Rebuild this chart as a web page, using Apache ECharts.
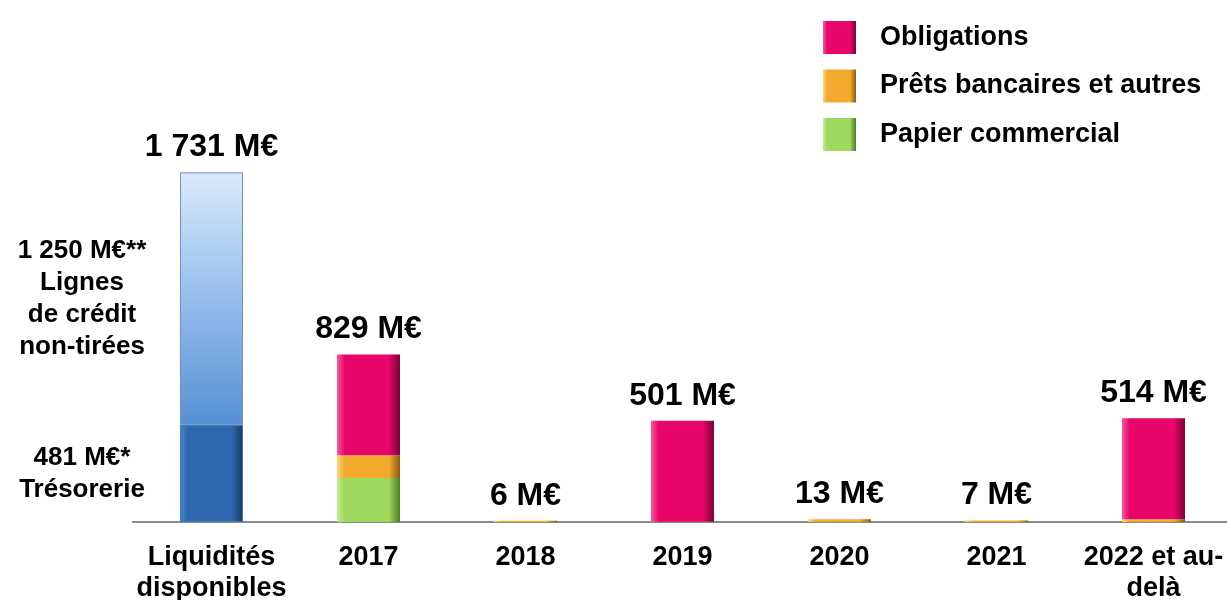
<!DOCTYPE html>
<html>
<head>
<meta charset="utf-8">
<script src="https://cdn.jsdelivr.net/npm/echarts@6/dist/echarts.min.js"></script>
<style>
  html, body { margin: 0; padding: 0; background: #fff; }
  #chart { width: 1227px; height: 600px; }
</style>
</head>
<body>
<div id="chart"></div>
<script>
const categories = ['Liquidités\ndisponibles', '2017', '2018', '2019', '2020', '2021', '2022 et au-\ndelà'];
const tresorerie = [481, null, null, null, null, null, null];
const lignesCredit = [1250, null, null, null, null, null, null];
const papierCommercial = [null, 218, 0, 0, 0, 0, 0];
const pretsBancaires = [null, 113, 6, 1, 13, 7, 14];
const obligations = [null, 498, 0, 500, 0, 0, 500];
const totals = ['1 731 M€', '829 M€', '6 M€', '501 M€', '13 M€', '7 M€', '514 M€'];

const FONT = "'Liberation Sans', Arial, sans-serif";

// horizontal shading to fake the bevelled bars
const bevel = (light, base, dark) => ({
  type: 'linear', x: 0, y: 0, x2: 1, y2: 0,
  colorStops: [
    { offset: 0, color: light },
    { offset: 0.12, color: base },
    { offset: 0.82, color: base },
    { offset: 1, color: dark },
  ],
});

const chart = echarts.init(document.getElementById('chart'));

const barBase = {
  type: 'bar',
  stack: 'total',
  barWidth: 63,
  cursor: 'auto',
};

const option = {
  animation: false,
  textStyle: { fontFamily: FONT },
  legend: {
    orient: 'vertical',
    left: 818,
    top: 16,
    itemWidth: 33,
    itemHeight: 33,
    itemGap: 15.5,
    icon: 'rect',
    data: ['Obligations', 'Prêts bancaires et autres', 'Papier commercial'],
    textStyle: {
      fontFamily: FONT,
      fontSize: 27,
      fontWeight: 'bold',
      color: '#000',
      padding: [0, 0, 0, 19],
    },
  },
  grid: { left: 133, width: 1099, top: 118, bottom: 78, outerBoundsMode: 'none', containLabel: false },
  xAxis: {
    type: 'category',
    data: categories,
    axisLine: { lineStyle: { color: '#8a8a8a', width: 2 } },
    axisTick: { length: 9, lineStyle: { color: '#8a8a8a', width: 2 } },
    axisLabel: {
      interval: 0,
      margin: 20,
      fontFamily: FONT,
      fontSize: 27,
      fontWeight: 'bold',
      color: '#000',
      lineHeight: 31,
    },
  },
  yAxis: {
    type: 'value',
    min: 0,
    max: 2000,
    show: false,
    splitLine: { show: false },
  },
  series: [
    {
      ...barBase,
      name: 'Trésorerie',
      data: tresorerie,
      itemStyle: { color: bevel('#4f86c6', '#2e67ad', '#173a66'), borderColor: '#3d79c0', borderWidth: 1 },
      label: {
        show: true,
        position: 'left',
        distance: 98,
        align: 'center',
        formatter: '481 M€*\nTrésorerie',
        fontFamily: FONT,
        fontSize: 26,
        fontWeight: 'bold',
        lineHeight: 32,
        color: '#000',
      },
    },
    {
      ...barBase,
      name: 'Lignes de crédit',
      data: lignesCredit,
      itemStyle: {
        color: {
          type: 'linear', x: 0, y: 0, x2: 0, y2: 1,
          colorStops: [
            { offset: 0, color: '#dbe9fa' },
            { offset: 0.35, color: '#a9cbf2' },
            { offset: 1, color: '#5590d6' },
          ],
        },
        borderColor: '#6e93bf',
        borderWidth: 1,
      },
      label: {
        show: true,
        position: 'left',
        distance: 98,
        align: 'center',
        formatter: '1 250 M€**\nLignes\nde crédit\nnon-tirées',
        fontFamily: FONT,
        fontSize: 26,
        fontWeight: 'bold',
        lineHeight: 32,
        color: '#000',
      },
    },
    {
      ...barBase,
      name: 'Papier commercial',
      data: papierCommercial,
      itemStyle: { color: bevel('#c4ee94', '#9ed85c', '#4d7a25') },
    },
    {
      ...barBase,
      name: 'Prêts bancaires et autres',
      data: pretsBancaires,
      itemStyle: { color: bevel('#ffd77a', '#f2ab2e', '#8c5a10') },
    },
    {
      ...barBase,
      name: 'Obligations',
      data: obligations,
      itemStyle: { color: bevel('#f55a9c', '#e8066a', '#7a0235') },
    },
    {
      ...barBase,
      name: 'Total',
      data: categories.map(() => 0),
      itemStyle: { color: 'transparent' },
      label: {
        show: true,
        position: 'top',
        distance: 9,
        formatter: (p) => totals[p.dataIndex],
        fontFamily: FONT,
        fontSize: 32,
        fontWeight: 'bold',
        color: '#000',
      },
    },
  ],
};

chart.setOption(option);
</script>
</body>
</html>
